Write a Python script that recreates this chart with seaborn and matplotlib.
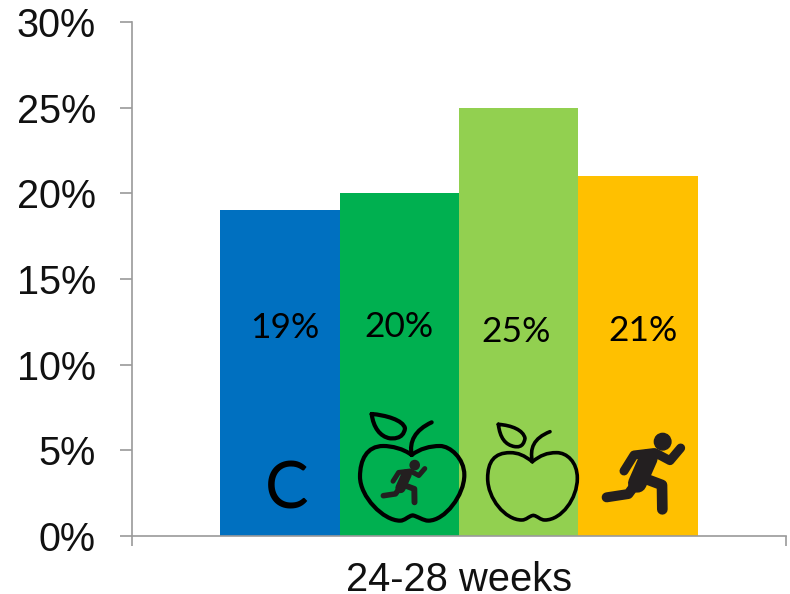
import matplotlib
matplotlib.use("Agg")
import matplotlib.pyplot as plt
import pandas as pd
import seaborn as sns
from matplotlib.patches import Circle, PathPatch
from matplotlib.path import Path

groups = ["C", "Diet + exercise", "Diet", "Exercise"]
values = [19, 20, 25, 21]
colors = ["#0070C0", "#00B050", "#92D050", "#FFC000"]
period = ["24-28 weeks"]
y_ticks = [0, 5, 10, 15, 20, 25, 30]
label_pos = [(285, 328), (399, 327), (516, 332), (643, 331)]

W, H = 790, 594
AX_L, AX_R, AX_T, AX_B = 132, 786, 22, 536
GREY = "#9a9a9a"

sns.set_theme(style="white")
plt.rcParams["font.family"] = ["Liberation Sans", "DejaVu Sans"]

fig = plt.figure(figsize=(W / 100, H / 100), dpi=100)
ax = fig.add_axes([AX_L / W, 1 - AX_B / H, (AX_R - AX_L) / W, (AX_B - AX_T) / H])

df = pd.DataFrame({"period": period * len(groups), "group": groups, "value": values})
sns.barplot(data=df, x="period", y="value", hue="group", hue_order=groups,
            palette=colors, width=0.73, gap=0, saturation=1, legend=False,
            linewidth=0, edgecolor="none", ax=ax)

ax.set_xlim(-0.5, 0.5)
ax.set_ylim(0, 30)
ax.set_xlabel("")
ax.set_ylabel("")
ax.set_yticks(y_ticks)
ax.set_yticklabels([f"{t}%" for t in y_ticks], fontsize=28.5, color="#111111")
ax.tick_params(axis="y", left=True, length=9, width=1.2, color=GREY, pad=17)
ax.set_xticks([-0.5, 0.5])
ax.set_xticklabels(["", ""])
ax.tick_params(axis="x", bottom=True, length=7, width=1.2, color=GREY)
ax.set_xticks([0], labels=period, minor=True)
ax.tick_params(axis="x", which="minor", bottom=False, labelsize=28.7, pad=14, labelcolor="#111111")
sns.despine(ax=ax)
for s in ("left", "bottom"):
    ax.spines[s].set_color(GREY)
    ax.spines[s].set_linewidth(1.2)

# overlay in image pixels for value labels and the hand-drawn icons
ov = fig.add_axes([0, 0, 1, 1], facecolor="none")
ov.set_xlim(0, W)
ov.set_ylim(H, 0)
ov.axis("off")

for v, (x, y) in zip(values, label_pos):
    ov.text(x, y, f"{v}%", ha="center", va="center", fontsize=25.5, family="Lato", color="black")
ov.text(287, 490, "C", ha="center", va="center", fontsize=47, family="Lato", color="black")


def z(p):
    return (340 + p[0] / 3, 390 + p[1] / 3)


def curve(points, lw):
    verts = [z(p) for p in points]
    codes = [Path.MOVETO] + [Path.CURVE4] * (len(verts) - 1)
    ov.add_patch(PathPatch(Path(verts, codes), fc="none", ec="black", lw=lw,
                           capstyle="round", joinstyle="round"))


def apple(dip, lt, le, bl, bd, br, re, rt, stem_c, stem_e, leaf_tip, leaf_r, leaf_b, lw):
    curve([dip, (dip[0] - 25, lt[1] + 8), (lt[0] + 25, lt[1]), lt,
           (le[0] + 20, lt[1]), (le[0], le[1] - 50), le,
           (le[0], le[1] + 60), (bl[0] - 50, bl[1]), bl,
           (bl[0] + 15, bl[1]), (bd[0] - 15, bd[1] + 3), bd,
           (bd[0] + 15, bd[1] + 3), (br[0] - 15, br[1]), br,
           (br[0] + 50, br[1]), (re[0], re[1] + 60), re,
           (re[0], re[1] - 50), (rt[0] + 30, rt[1]), rt,
           (rt[0] - 30, rt[1]), (dip[0] + 25, rt[1] + 8), dip], lw)
    curve([dip, (dip[0] - 8, dip[1] - 40), stem_c, stem_e], lw)
    curve([leaf_tip, (leaf_tip[0] + 40, leaf_tip[1] + 3), (leaf_r[0] - 5, leaf_r[1] - 25), leaf_r,
           (leaf_r[0] - 5, leaf_b[1] + 5), (leaf_b[0] + 5, leaf_b[1]), leaf_b,
           (leaf_b[0] - 30, leaf_b[1] - 5), (leaf_tip[0] + 5, leaf_tip[1] + 40), leaf_tip], lw)


apple((215, 195), (130, 168), (60, 260), (180, 392), (218, 376), (265, 392), (373, 255), (300, 168),
      (225, 120), (275, 97), (95, 72), (195, 115), (150, 145), 3.0)
apple((577, 215), (510, 188), (443, 265), (545, 390), (580, 376), (615, 390), (712, 265), (650, 188),
      (580, 145), (630, 125), (475, 103), (555, 145), (525, 170), 2.6)

RUNNER_LIMBS = [
    ([(852, 243), (882, 195), (940, 188)], 27),
    ([(945, 188), (990, 212), (1022, 174)], 27),
    ([(925, 205), (892, 280)], 56),
    ([(905, 262), (966, 285), (967, 358)], 32),
    ([(885, 285), (865, 312), (800, 322)], 30),
]


def runner(scale_x, scale_y, dx, dy):
    for pts, w in RUNNER_LIMBS:
        xy = [z((p[0] * scale_x + dx, p[1] * scale_y + dy)) for p in pts]
        ov.plot([a for a, _ in xy], [b for _, b in xy], color="#231f20",
                lw=w / 3 * 0.72 * (scale_x + scale_y) / 2, solid_capstyle="round",
                solid_joinstyle="round")
    cx, cy = z((968 * scale_x + dx, 155 * scale_y + dy))
    ov.add_patch(Circle((cx, cy), 8.3 * (scale_x + scale_y) / 2, color="#231f20"))


runner(1, 1, 0, 0)
runner(0.56, 0.55, -318, 140)

ov.set_xlim(0, W)
ov.set_ylim(H, 0)
fig.savefig("out.png", dpi=100)
